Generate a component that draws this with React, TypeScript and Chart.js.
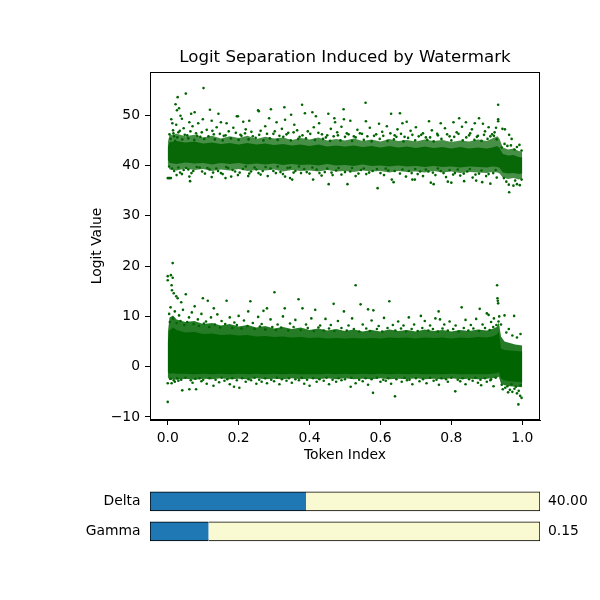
import { useEffect, useRef } from "react";
import { Chart, registerables } from "chart.js";

Chart.register(...registerables);
Chart.defaults.font.family = "'DejaVu Sans', sans-serif";
Chart.defaults.color = "#000";

const GREEN = "#006400";
const TITLE = "Logit Separation Induced by Watermark";

const xTicks = [0, 0.2, 0.4, 0.6, 0.8, 1.0];
const yTicks = [-10, 0, 10, 20, 30, 40, 50];

// dense core of the upper (watermarked) band: outer and inner envelopes
const upperBandX = [0, 0.005, 0.025, 0.05, 0.075, 0.1, 0.125, 0.15, 0.175, 0.2, 0.225, 0.25, 0.275, 0.3, 0.325, 0.35, 0.375, 0.4, 0.425, 0.45, 0.475, 0.5, 0.525, 0.55, 0.575, 0.6, 0.625, 0.65, 0.675, 0.7, 0.725, 0.75, 0.775, 0.8, 0.825, 0.85, 0.875, 0.9, 0.915, 0.93, 0.936, 0.945, 0.96, 0.975, 0.99, 1.0];
const upperOuterTop = [44.6, 46.0, 46.3, 45.8, 46.1, 45.6, 45.9, 45.4, 45.8, 45.5, 45.9, 45.3, 45.7, 45.4, 45.6, 45.1, 45.5, 45.2, 45.6, 45.0, 45.3, 45.0, 45.4, 44.9, 45.2, 44.8, 45.3, 44.9, 45.1, 44.8, 45.2, 44.9, 45.1, 44.7, 45.0, 44.8, 45.2, 44.9, 45.4, 45.8, 45.3, 43.6, 43.2, 43.4, 42.9, 42.8];
const upperOuterBottom = [40.2, 39.2, 39.0, 39.4, 39.1, 39.3, 38.9, 39.2, 39.0, 39.3, 38.9, 39.1, 39.0, 39.2, 38.8, 39.1, 38.9, 39.0, 38.8, 39.1, 38.8, 38.9, 38.7, 39.0, 38.8, 38.9, 38.6, 38.9, 38.7, 38.8, 38.6, 38.9, 38.6, 38.8, 38.5, 38.7, 38.6, 38.5, 38.7, 38.6, 38.4, 37.6, 37.3, 37.5, 37.2, 37.4];
const upperInnerTop = [43.6, 44.7, 44.9, 44.6, 44.8, 44.4, 44.6, 44.3, 44.5, 44.2, 44.5, 44.2, 44.4, 44.1, 44.3, 44.0, 44.2, 43.9, 44.2, 43.8, 44.0, 43.8, 44.0, 43.7, 43.9, 43.6, 43.9, 43.6, 43.8, 43.5, 43.8, 43.5, 43.7, 43.4, 43.7, 43.4, 43.6, 43.4, 43.6, 43.9, 43.5, 42.3, 42.0, 42.1, 41.7, 41.6];
const upperInnerBottom = [41.2, 40.5, 40.3, 40.6, 40.4, 40.5, 40.2, 40.5, 40.3, 40.5, 40.2, 40.4, 40.2, 40.4, 40.1, 40.3, 40.1, 40.2, 40.0, 40.3, 40.0, 40.1, 39.9, 40.2, 39.9, 40.0, 39.8, 40.0, 39.8, 39.9, 39.7, 39.9, 39.7, 39.8, 39.6, 39.8, 39.7, 39.6, 39.8, 39.7, 39.5, 38.6, 38.4, 38.5, 38.3, 38.4];

// dense core of the lower (non-watermarked) band
const lowerBandX = [0, 0.005, 0.015, 0.025, 0.05, 0.075, 0.1, 0.125, 0.15, 0.175, 0.2, 0.225, 0.25, 0.275, 0.3, 0.325, 0.35, 0.375, 0.4, 0.425, 0.45, 0.475, 0.5, 0.525, 0.55, 0.575, 0.6, 0.625, 0.65, 0.675, 0.7, 0.725, 0.75, 0.775, 0.8, 0.825, 0.85, 0.875, 0.9, 0.915, 0.928, 0.934, 0.94, 0.95, 0.965, 0.98, 1.0];
const lowerOuterTop = [6.5, 9.8, 10.2, 9.4, 8.9, 9.1, 8.5, 8.7, 8.2, 8.5, 8.0, 8.3, 7.8, 8.1, 7.6, 7.9, 7.5, 7.8, 7.3, 7.6, 7.2, 7.5, 7.1, 7.4, 7.0, 7.3, 7.0, 7.4, 7.1, 7.3, 7.0, 7.4, 7.1, 7.3, 7.0, 7.3, 7.1, 7.4, 7.2, 7.5, 7.9, 8.8, 6.0, 5.0, 4.7, 4.4, 4.2];
const lowerOuterBottom = [-2.0, -2.7, -2.5, -2.6, -2.4, -2.6, -2.4, -2.5, -2.3, -2.5, -2.4, -2.5, -2.3, -2.5, -2.4, -2.5, -2.3, -2.5, -2.4, -2.5, -2.3, -2.5, -2.3, -2.5, -2.4, -2.5, -2.3, -2.5, -2.4, -2.5, -2.3, -2.5, -2.4, -2.5, -2.3, -2.5, -2.4, -2.5, -2.4, -2.3, -2.2, -2.0, -3.4, -3.7, -3.9, -4.0, -4.1];
const lowerInnerTop = [4.8, 7.2, 7.8, 7.3, 6.8, 6.9, 6.5, 6.6, 6.3, 6.4, 6.2, 6.3, 6.0, 6.1, 5.9, 6.0, 5.8, 5.9, 5.7, 5.8, 5.6, 5.7, 5.6, 5.7, 5.6, 5.7, 5.6, 5.8, 5.7, 5.8, 5.6, 5.8, 5.7, 5.8, 5.6, 5.8, 5.7, 5.9, 5.8, 6.0, 6.4, 7.0, 3.6, 3.3, 3.2, 3.1, 3.0];
const lowerInnerBottom = [-1.0, -1.4, -1.3, -1.4, -1.4, -1.5, -1.4, -1.5, -1.4, -1.5, -1.4, -1.5, -1.4, -1.5, -1.4, -1.5, -1.4, -1.5, -1.5, -1.5, -1.4, -1.5, -1.4, -1.5, -1.4, -1.5, -1.4, -1.5, -1.4, -1.5, -1.4, -1.5, -1.5, -1.5, -1.4, -1.5, -1.5, -1.5, -1.5, -1.4, -1.3, -1.1, -2.4, -2.7, -2.9, -3.0, -3.1];

// scattered tokens around the upper band
const upperPoints: [number, number][] = [
  [0.101, 55.4], [0.051, 54.3], [0.028, 53.6], [0.022, 52.2], [0.032, 51.4], [0.026, 51.0], [0.119, 51.1],
  [0.076, 50.6], [0.066, 50.3], [0.143, 50.3], [0.255, 51.0], [0.291, 51.2], [0.329, 51.6], [0.379, 52.1],
  [0.195, 49.8], [0.23, 48.9], [0.257, 50.8], [0.099, 49.2], [0.01, 49.2], [0.013, 48.4], [0.036, 49.9],
  [0.04, 49.3], [0.024, 48.1], [0.061, 48.6], [0.086, 48.4], [0.124, 48.9], [0.15, 48.6], [0.166, 48.4],
  [0.198, 49.8], [0.213, 48.7], [0.286, 49.4], [0.307, 48.6], [0.331, 49.1], [0.348, 50.1], [0.357, 48.1],
  [0.387, 50.4], [0.408, 50.6], [0.418, 49.8], [0.453, 50.3], [0.47, 49.4], [0.427, 48.4],
  [0.558, 52.5], [0.932, 52.1], [0.496, 51.2], [0.63, 50.3], [0.655, 50.4], [0.472, 48.6], [0.497, 49.2],
  [0.515, 48.9], [0.559, 48.8], [0.596, 48.3], [0.662, 48.4], [0.674, 48.7], [0.737, 48.8], [0.77, 48.4],
  [0.806, 48.6], [0.822, 49.4], [0.841, 48.6], [0.878, 49.4], [0.866, 48.4], [0.889, 48.3], [0.932, 48.8],
  [0.932, 49.2], [0.926, 47.5], [0.944, 47.3], [0.951, 47.2], [0.963, 46.1], [0.97, 45.3],
  [0.005, 46.2], [0.015, 47.0], [0.018, 45.8], [0.03, 46.6], [0.045, 47.4], [0.055, 46.0], [0.07, 47.8],
  [0.08, 46.4], [0.092, 45.7], [0.11, 47.1], [0.13, 46.2], [0.138, 47.6], [0.158, 45.9], [0.172, 46.8],
  [0.185, 47.5], [0.205, 46.1], [0.22, 47.2], [0.24, 45.8], [0.262, 46.9], [0.275, 47.8], [0.298, 46.3],
  [0.315, 45.9], [0.322, 47.3], [0.34, 46.5], [0.365, 47.0], [0.372, 45.7], [0.395, 46.8], [0.412, 47.6],
  [0.435, 46.2], [0.446, 45.6], [0.46, 47.3], [0.48, 46.0], [0.49, 47.7], [0.505, 46.4], [0.525, 45.8],
  [0.535, 47.1], [0.548, 46.3], [0.57, 47.5], [0.582, 45.9], [0.605, 46.7], [0.618, 47.8], [0.64, 46.0],
  [0.648, 47.2], [0.668, 45.7], [0.685, 46.9], [0.7, 47.6], [0.715, 46.1], [0.728, 45.6], [0.745, 47.0],
  [0.76, 46.3], [0.782, 47.4], [0.795, 45.8], [0.815, 46.6], [0.83, 47.7], [0.85, 46.0], [0.858, 47.2],
  [0.872, 45.7], [0.895, 46.8], [0.905, 47.6], [0.915, 46.2], [0.92, 45.9],
  [0.008, 45.3], [0.016, 46.4], [0.021, 44.9], [0.027, 45.6], [0.034, 46.9], [0.041, 45.2], [0.048, 46.1],
  [0.058, 45.4], [0.064, 46.8], [0.075, 45.1], [0.083, 45.9], [0.096, 46.6], [0.103, 45.3], [0.115, 45.8],
  [0.126, 46.9], [0.133, 45.2], [0.147, 46.3], [0.155, 45.0], [0.163, 46.0], [0.178, 45.4], [0.192, 46.5],
  [0.2, 45.1], [0.208, 45.9], [0.218, 46.4], [0.228, 45.2], [0.236, 46.7], [0.248, 45.5], [0.258, 46.1],
  [0.27, 45.0], [0.28, 46.3], [0.288, 45.4], [0.302, 46.8], [0.31, 45.1], [0.326, 45.7], [0.335, 46.2],
  [0.347, 45.0], [0.355, 46.6], [0.368, 45.3], [0.38, 46.0], [0.39, 45.4], [0.402, 46.3], [0.415, 45.1],
  [0.425, 46.5], [0.438, 45.3], [0.45, 46.0], [0.458, 44.9], [0.468, 45.8], [0.478, 46.6], [0.487, 45.0],
  [0.5, 45.7], [0.51, 46.2], [0.52, 44.9], [0.53, 45.6], [0.542, 46.4], [0.553, 45.1], [0.563, 45.8],
  [0.575, 44.8], [0.588, 46.2], [0.598, 45.3], [0.608, 45.9], [0.62, 44.9], [0.628, 46.4], [0.638, 45.2],
  [0.645, 45.7], [0.658, 46.3], [0.665, 44.8], [0.678, 45.5], [0.69, 46.1], [0.698, 45.0], [0.708, 45.8],
  [0.72, 46.4], [0.732, 45.1], [0.74, 45.6], [0.75, 44.8], [0.762, 46.0], [0.772, 45.3], [0.788, 46.2],
  [0.8, 45.0], [0.808, 45.7], [0.82, 46.3], [0.832, 45.0], [0.842, 45.6], [0.853, 46.4], [0.865, 45.1],
  [0.875, 45.9], [0.885, 44.9], [0.892, 46.1], [0.902, 45.3], [0.91, 45.8], [0.922, 46.6], [0.928, 45.2],
  [0.0, 37.5], [0.003, 37.5], [0.006, 37.5], [0.009, 37.5], [0.063, 36.9], [0.025, 38.1], [0.045, 39.1],
  [0.061, 37.8], [0.124, 37.7], [0.163, 37.5], [0.15, 38.5], [0.179, 37.8], [0.198, 38.1], [0.235, 38.8],
  [0.256, 38.5], [0.282, 37.9], [0.305, 38.5], [0.331, 37.8], [0.345, 37.5], [0.376, 38.5], [0.41, 37.2],
  [0.434, 38.0], [0.454, 36.3], [0.465, 38.1], [0.592, 35.5], [0.963, 34.7], [0.507, 36.3], [0.697, 37.2],
  [0.742, 36.6], [0.75, 36.3], [0.79, 36.8], [0.8, 36.6], [0.887, 36.7], [0.91, 36.4], [0.948, 37.5],
  [0.985, 36.3], [0.993, 36.1], [0.637, 36.7], [0.227, 37.9], [0.351, 37.2], [0.632, 37.2], [0.69, 37.2],
  [0.836, 36.9], [0.87, 37.0], [0.962, 36.2], [0.975, 36.0],
  [0.012, 39.4], [0.035, 38.6], [0.052, 39.5], [0.072, 38.9], [0.09, 39.6], [0.105, 38.4], [0.118, 39.2],
  [0.142, 38.9], [0.17, 39.5], [0.19, 38.8], [0.212, 39.3], [0.245, 39.6], [0.268, 38.9], [0.29, 39.4],
  [0.318, 38.7], [0.338, 39.5], [0.36, 38.9], [0.385, 39.3], [0.4, 38.4], [0.42, 39.2], [0.443, 38.7],
  [0.475, 39.0], [0.49, 38.2], [0.515, 38.8], [0.53, 37.9], [0.545, 39.1], [0.56, 38.3], [0.578, 38.9],
  [0.61, 38.1], [0.622, 39.0], [0.655, 38.4], [0.672, 37.8], [0.68, 38.9], [0.705, 38.3], [0.72, 37.9],
  [0.735, 38.8], [0.755, 38.1], [0.77, 38.9], [0.785, 37.7], [0.81, 38.5], [0.825, 38.0], [0.845, 38.8],
  [0.86, 37.6], [0.878, 38.4], [0.898, 37.9], [0.918, 38.5], [0.928, 37.6], [0.955, 36.8], [0.98, 37.0],
  [0.998, 37.2],
  [0.004, 39.8], [0.018, 38.9], [0.03, 39.6], [0.04, 38.3], [0.058, 39.2], [0.067, 38.5], [0.082, 39.7],
  [0.097, 38.8], [0.112, 39.5], [0.128, 38.6], [0.137, 39.4], [0.155, 38.3], [0.165, 39.7], [0.183, 39.1],
  [0.203, 38.6], [0.22, 39.8], [0.23, 38.4], [0.25, 39.2], [0.262, 38.2], [0.276, 39.7], [0.298, 38.9],
  [0.31, 39.8], [0.325, 38.3], [0.345, 39.6], [0.355, 38.6], [0.37, 39.8], [0.392, 38.7], [0.408, 39.6],
  [0.428, 38.5], [0.45, 39.4], [0.462, 38.6], [0.482, 39.5], [0.5, 38.7], [0.52, 39.5], [0.538, 38.4],
  [0.553, 39.4], [0.568, 38.6], [0.59, 39.3], [0.6, 38.5], [0.615, 39.4], [0.64, 38.9], [0.662, 39.2],
  [0.688, 38.5], [0.698, 39.3], [0.712, 38.8], [0.728, 39.2], [0.748, 38.6], [0.762, 39.4], [0.778, 38.5],
  [0.795, 39.1], [0.805, 38.2], [0.818, 39.2], [0.835, 38.4], [0.852, 39.3], [0.868, 38.2], [0.885, 39.0],
  [0.905, 38.3], [0.925, 39.1],
  [0.942, 43.6], [0.95, 44.3], [0.958, 43.9], [0.968, 44.0], [0.978, 43.2], [0.985, 43.7], [0.992, 44.1],
  [0.998, 43.0],
];

// scattered tokens around the lower band
const lowerPoints: [number, number][] = [
  [0.014, 20.6], [0.0, 18.0], [0.009, 18.2], [0.0, 17.2], [0.014, 17.7], [0.011, 16.2], [0.012, 15.2],
  [0.017, 14.6], [0.024, 14.0], [0.051, 14.4], [0.099, 13.6], [0.113, 13.1], [0.166, 13.1], [0.233, 13.0],
  [0.301, 14.8], [0.369, 13.4], [0.38, 11.6], [0.468, 12.5], [0.27, 11.1],
  [0.53, 16.2], [0.929, 16.2], [0.93, 13.6], [0.931, 13.1], [0.932, 12.6], [0.625, 13.0], [0.544, 12.4],
  [0.565, 11.4], [0.58, 11.2], [0.764, 11.0], [0.829, 11.8], [0.88, 11.5], [0.9, 10.6], [0.905, 10.3],
  [0.977, 10.1], [0.028, 13.6], [0.038, 12.8], [0.076, 12.0], [0.13, 11.6], [0.227, 11.0], [0.28, 11.6],
  [0.33, 11.6], [0.416, 11.3], [0.497, 11.0], [0.714, 10.1], [0.768, 9.4], [0.95, 10.2], [0.935, 10.0],
  [0.004, 10.5], [0.008, 11.8], [0.02, 11.0], [0.032, 10.2], [0.043, 11.3], [0.06, 9.8], [0.068, 10.8],
  [0.085, 9.4], [0.095, 10.5], [0.108, 9.0], [0.122, 9.8], [0.14, 10.4], [0.152, 9.1], [0.175, 9.8],
  [0.188, 8.8], [0.2, 10.1], [0.215, 9.2], [0.24, 8.7], [0.255, 9.9], [0.265, 8.5], [0.29, 9.4],
  [0.31, 8.4], [0.325, 10.0], [0.345, 8.6], [0.36, 9.3], [0.39, 8.4], [0.405, 9.6], [0.43, 8.2],
  [0.445, 9.5], [0.46, 8.3], [0.48, 9.1], [0.51, 8.2], [0.52, 9.6], [0.55, 8.4], [0.575, 9.2],
  [0.595, 8.1], [0.61, 9.7], [0.635, 8.3], [0.65, 9.0], [0.665, 8.2], [0.68, 9.8], [0.695, 8.4],
  [0.725, 9.1], [0.74, 8.2], [0.755, 9.6], [0.78, 8.4], [0.795, 9.0], [0.812, 8.2], [0.84, 9.3],
  [0.855, 8.3], [0.87, 9.5], [0.888, 8.4], [0.912, 8.9], [0.92, 9.6], [0.94, 8.4], [0.955, 6.8],
  [0.962, 7.5], [0.972, 6.2], [0.985, 5.8], [0.995, 6.5],
  [0.006, 8.9], [0.015, 9.6], [0.025, 8.7], [0.036, 9.1], [0.047, 8.3], [0.055, 8.9], [0.073, 8.5],
  [0.088, 8.1], [0.102, 8.6], [0.117, 7.9], [0.133, 8.4], [0.148, 7.8], [0.162, 8.5], [0.182, 7.7],
  [0.195, 8.3], [0.208, 7.6], [0.225, 8.1], [0.245, 7.5], [0.26, 8.0], [0.275, 7.4], [0.295, 7.9],
  [0.305, 7.3], [0.32, 7.8], [0.34, 7.2], [0.355, 7.9], [0.375, 7.3], [0.395, 7.7], [0.412, 7.1],
  [0.425, 7.8], [0.44, 7.2], [0.455, 7.6], [0.47, 7.1], [0.49, 7.7], [0.505, 7.2], [0.525, 7.5],
  [0.54, 7.0], [0.56, 7.6], [0.57, 7.1], [0.59, 7.5], [0.605, 7.0], [0.62, 7.7], [0.642, 7.2],
  [0.658, 7.6], [0.672, 7.0], [0.688, 7.5], [0.705, 7.1], [0.718, 7.7], [0.735, 7.2], [0.748, 7.5],
  [0.762, 7.0], [0.775, 7.6], [0.79, 7.2], [0.805, 7.5], [0.82, 7.0], [0.835, 7.7], [0.848, 7.2],
  [0.862, 7.6], [0.878, 7.1], [0.895, 7.7], [0.908, 7.3], [0.918, 7.9], [0.927, 8.3], [0.933, 9.0],
  [0.0, -7.0], [0.041, -4.7], [0.061, -4.5], [0.08, -4.5], [0.129, -3.8], [0.187, -4.0], [0.202, -4.2],
  [0.0, -3.3], [0.011, -3.3], [0.641, -5.9], [0.579, -5.2], [0.811, -4.9], [0.989, -7.5], [0.998, -6.2],
  [0.994, -5.8], [0.985, -5.3], [0.972, -5.0], [0.96, -5.1], [0.4, -3.8], [0.516, -4.0], [0.884, -3.7],
  [0.919, -3.9], [0.28, -3.3],
  [0.02, -3.0], [0.03, -2.8], [0.07, -3.2], [0.095, -2.9], [0.11, -3.4], [0.145, -3.1], [0.16, -2.8],
  [0.175, -3.5], [0.22, -3.0], [0.235, -2.7], [0.25, -3.4], [0.265, -3.0], [0.3, -2.9], [0.315, -3.5],
  [0.335, -2.8], [0.35, -3.2], [0.37, -2.7], [0.385, -3.4], [0.42, -3.0], [0.44, -2.8], [0.455, -3.5],
  [0.475, -3.0], [0.49, -2.7], [0.53, -3.3], [0.55, -2.9], [0.565, -3.6], [0.6, -3.0], [0.615, -2.8],
  [0.63, -3.4], [0.66, -3.0], [0.675, -2.7], [0.69, -3.5], [0.71, -2.9], [0.73, -3.3], [0.75, -2.8],
  [0.765, -3.6], [0.79, -3.0], [0.825, -2.9], [0.84, -3.5], [0.86, -2.8], [0.875, -3.2], [0.9, -3.0],
  [0.91, -2.7], [0.945, -4.5], [0.952, -4.2], [0.965, -4.6], [0.978, -4.4], [0.99, -4.8],
  [0.008, -2.4], [0.017, -2.7], [0.027, -2.3], [0.038, -2.6], [0.05, -2.2], [0.065, -2.7], [0.078, -2.4],
  [0.09, -2.3], [0.1, -2.6], [0.118, -2.3], [0.135, -2.6], [0.152, -2.2], [0.168, -2.5], [0.182, -2.3],
  [0.195, -2.7], [0.21, -2.3], [0.228, -2.5], [0.245, -2.2], [0.258, -2.6], [0.275, -2.3], [0.292, -2.6],
  [0.308, -2.2], [0.322, -2.5], [0.342, -2.3], [0.36, -2.5], [0.378, -2.2], [0.393, -2.6], [0.41, -2.3],
  [0.428, -2.5], [0.448, -2.2], [0.465, -2.6], [0.482, -2.3], [0.5, -2.5], [0.518, -2.2], [0.54, -2.6],
  [0.558, -2.3], [0.575, -2.5], [0.59, -2.2], [0.608, -2.6], [0.622, -2.3], [0.645, -2.5], [0.668, -2.2],
  [0.682, -2.6], [0.7, -2.3], [0.72, -2.5], [0.74, -2.2], [0.758, -2.6], [0.772, -2.3], [0.785, -2.5],
  [0.8, -2.2], [0.818, -2.6], [0.832, -2.3], [0.85, -2.5], [0.868, -2.2], [0.882, -2.6], [0.895, -2.3],
  [0.912, -2.5], [0.925, -2.2], [0.942, -3.6], [0.958, -3.9], [0.97, -3.5], [0.982, -4.0], [0.995, -3.7],
];

// the two sliders under the plot
const sliderNames = ["Delta", "Gamma"];
const sliderValues = [40, 0.15];
const sliderMax = [100, 1];

const TICK_FONT = { size: 13.9 };
const TEXT_FONT = "13.9px 'DejaVu Sans', sans-serif";

function toXY(xs: number[], ys: number[]) {
  return xs.map((x, i) => ({ x, y: ys[i] }));
}

function bandDatasets(xs: number[], lo: number[], hi: number[], color: string) {
  return [
    { type: "line", data: toXY(xs, lo), borderColor: "transparent", borderWidth: 0, pointRadius: 0, fill: false, order: 2 },
    { type: "line", data: toXY(xs, hi), borderColor: "transparent", borderWidth: 0, pointRadius: 0, fill: "-1", backgroundColor: color, order: 2 },
  ];
}

function ScatterChart() {
  const canvasRef = useRef<HTMLCanvasElement | null>(null);
  const chartInstance = useRef<Chart | null>(null);

  useEffect(() => {
    if (!canvasRef.current) return;
    if (chartInstance.current) chartInstance.current.destroy();

    const framePlugin = {
      id: "frame",
      afterDraw(chart: any) {
        const { ctx, chartArea } = chart;
        ctx.save();
        ctx.strokeStyle = "#000";
        ctx.lineWidth = 1;
        ctx.strokeRect(chartArea.left + 0.5, chartArea.top + 0.5, chartArea.width - 1, chartArea.height - 1);
        ctx.fillStyle = "#000";
        ctx.font = "16.67px 'DejaVu Sans', sans-serif";
        ctx.textAlign = "center";
        ctx.textBaseline = "middle";
        ctx.fillText(TITLE, (chartArea.left + chartArea.right) / 2, 58);
        ctx.restore();
      },
    };

    const datasets: any[] = [
      ...bandDatasets(upperBandX, upperOuterBottom, upperOuterTop, "rgba(0,100,0,0.72)"),
      ...bandDatasets(upperBandX, upperInnerBottom, upperInnerTop, "rgba(0,100,0,0.88)"),
      ...bandDatasets(lowerBandX, lowerOuterBottom, lowerOuterTop, "rgba(0,100,0,0.85)"),
      ...bandDatasets(lowerBandX, lowerInnerBottom, lowerInnerTop, GREEN),
      {
        type: "scatter",
        data: upperPoints.map(([x, y]) => ({ x, y })),
        backgroundColor: GREEN,
        borderWidth: 0,
        pointRadius: 1.3,
        order: 0,
      },
      {
        type: "scatter",
        data: lowerPoints.map(([x, y]) => ({ x, y })),
        backgroundColor: GREEN,
        borderWidth: 0,
        pointRadius: 1.3,
        order: 0,
      },
    ];

    chartInstance.current = new Chart(canvasRef.current, {
      type: "scatter",
      data: { datasets },
      options: {
        animation: false,
        responsive: false,
        events: [],
        layout: { padding: { top: 72, right: 60, left: 0, bottom: 0 } },
        plugins: { legend: { display: false }, tooltip: { enabled: false } },
        scales: {
          x: {
            type: "linear",
            min: -0.05,
            max: 1.05,
            afterBuildTicks: (s: any) => {
              s.ticks = xTicks.map((v) => ({ value: v }));
            },
            afterFit: (s: any) => {
              s.height = 50;
            },
            ticks: { callback: (v: any) => Number(v).toFixed(1), font: TICK_FONT, color: "#000", padding: 5, maxRotation: 0, autoSkip: false },
            grid: { drawOnChartArea: false, color: "#000", tickLength: 5 },
            border: { color: "#000", width: 1 },
            title: { display: true, text: "Token Index", font: TICK_FONT, color: "#000", padding: { top: 0, bottom: 6.6 } },
          },
          y: {
            type: "linear",
            min: -10.6,
            max: 58.6,
            afterBuildTicks: (s: any) => {
              s.ticks = yTicks.map((v) => ({ value: v }));
            },
            afterFit: (s: any) => {
              s.width = 150;
            },
            ticks: {
              callback: (v: any) => (v < 0 ? "\u2212" + Math.abs(v) : String(v)),
              font: TICK_FONT,
              color: "#000",
              padding: 5,
              autoSkip: false,
            },
            grid: { drawOnChartArea: false, color: "#000", tickLength: 5 },
            border: { color: "#000", width: 1 },
            title: { display: true, text: "Logit Value", font: TICK_FONT, color: "#000", padding: { top: 88.6, bottom: 0 } },
          },
        },
      } as any,
      plugins: [framePlugin],
    });

    return () => {
      if (chartInstance.current) {
        chartInstance.current.destroy();
        chartInstance.current = null;
      }
    };
  }, []);

  return <canvas ref={canvasRef} width={600} height={470} style={{ width: 600, height: 470, display: "block" }} />;
}

function SliderChart() {
  const canvasRef = useRef<HTMLCanvasElement | null>(null);
  const chartInstance = useRef<Chart | null>(null);

  useEffect(() => {
    if (!canvasRef.current) return;
    if (chartInstance.current) chartInstance.current.destroy();

    const fractions = sliderValues.map((v, i) => v / sliderMax[i]);
    const rest = fractions.map((f) => 1 - f);

    // slider names on the left, current values on the right
    const sliderText = {
      id: "sliderText",
      afterDraw(chart: any) {
        const { ctx, chartArea, scales } = chart;
        ctx.save();
        ctx.fillStyle = "#000";
        ctx.font = TEXT_FONT;
        ctx.textBaseline = "middle";
        sliderNames.forEach((name, i) => {
          const y = scales.y.getPixelForValue(i);
          ctx.textAlign = "right";
          ctx.fillText(name, chartArea.left - 9.5, y);
          ctx.textAlign = "left";
          ctx.fillText(sliderValues[i].toFixed(2), chartArea.right + 8, y);
        });
        ctx.restore();
      },
    };

    chartInstance.current = new Chart(canvasRef.current, {
      type: "bar",
      data: {
        labels: sliderNames,
        datasets: [
          {
            data: fractions,
            backgroundColor: "#1f77b4",
            borderColor: "#000",
            borderWidth: 1,
            borderSkipped: "right",
            barThickness: 19,
          },
          {
            data: rest,
            backgroundColor: "#fafad2",
            borderColor: "#000",
            borderWidth: 1,
            borderSkipped: "left",
            barThickness: 19,
          },
        ],
      },
      options: {
        indexAxis: "y",
        animation: false,
        responsive: false,
        events: [],
        layout: { padding: { top: 6.45, bottom: 13.75, right: 60, left: 150 } },
        plugins: { legend: { display: false }, tooltip: { enabled: false } },
        scales: {
          x: { display: false, stacked: true, min: 0, max: 1 },
          y: { display: false, stacked: true },
        },
      } as any,
      plugins: [sliderText],
    });

    return () => {
      if (chartInstance.current) {
        chartInstance.current.destroy();
        chartInstance.current = null;
      }
    };
  }, []);

  return <canvas ref={canvasRef} width={600} height={80} style={{ width: 600, height: 80, display: "block" }} />;
}

export default function App() {
  return (
    <div style={{ position: "fixed", left: 0, top: 0, width: 600, height: 600, background: "#fff" }}>
      <div style={{ position: "absolute", left: 0, top: 0 }}>
        <ScatterChart />
      </div>
      <div style={{ position: "absolute", left: 0, top: 480 }}>
        <SliderChart />
      </div>
    </div>
  );
}
